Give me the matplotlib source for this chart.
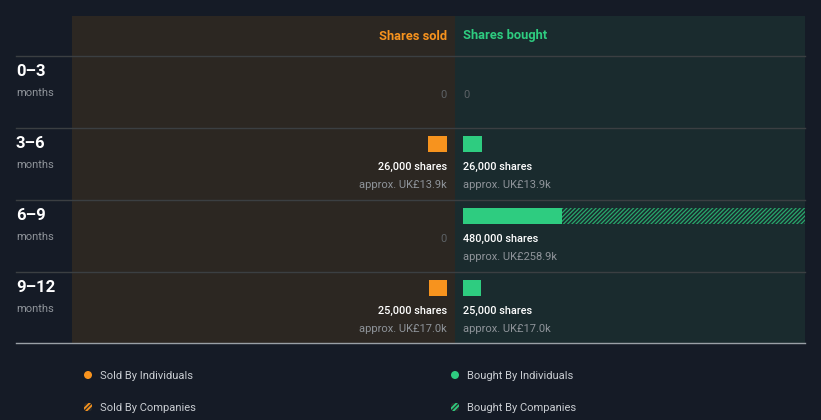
import matplotlib
matplotlib.use("Agg")
import matplotlib.pyplot as plt
from matplotlib.patches import Rectangle, Circle, FancyBboxPatch
import matplotlib as mpl

# ---- data ----
periods = ["0–3", "3–6", "6–9", "9–12"]
sold_individuals = [0, 26000, 0, 25000]
sold_companies = [0, 0, 0, 0]
bought_individuals = [0, 26000, 139000, 25000]
bought_companies = [0, 0, 341000, 0]
sold_values = ["", "approx. UK£13.9k", "", "approx. UK£17.0k"]
bought_values = ["", "approx. UK£13.9k", "approx. UK£258.9k", "approx. UK£17.0k"]
legend_labels = ["Sold By Individuals", "Sold By Companies",
                 "Bought By Individuals", "Bought By Companies"]

# ---- style ----
plt.rcParams['font.family'] = ['Roboto', 'DejaVu Sans']
mpl.rcParams['hatch.linewidth'] = 0.9
BG = "#151b26"
SOLD_BG = "#2c2722"
BOUGHT_BG = "#1a2b2e"
ORANGE = "#f7931e"
GREEN = "#2ecc80"
GREEN_H = "#28a86c"
ORANGE_H = "#c97a1c"
LINE = "#3b3f42"
WHITE = "#ffffff"
GREY = "#8f949a"
DIM = "#5d6266"

W, H = 821, 420
fig = plt.figure(figsize=(W / 100, H / 100), dpi=100, facecolor=BG)
ax0 = fig.add_axes([0, 0, 1, 1])
ax0.set_xlim(0, W)
ax0.set_ylim(H, 0)
ax0.axis("off")
ax0.set_facecolor(BG)

top, header_bottom, row_h = 16, 56, 72
sold_left, mid, right = 72, 455, 805
ax0.add_patch(Rectangle((sold_left, top), mid - sold_left, 343 - top, color=SOLD_BG, lw=0, zorder=0))
ax0.add_patch(Rectangle((mid, top), right - mid, 343 - top, color=BOUGHT_BG, lw=0, zorder=0))

# separators
for i in range(len(periods)):
    y = header_bottom + i * row_h
    ax0.plot([16, right], [y, y], color=LINE, lw=1, zorder=1)
ax0.plot([16, right], [343, 343], color="#9aa0a6", lw=1, zorder=1)

ax0.text(447, 36, "Shares sold", color=ORANGE, fontsize=9.3, fontweight="bold", ha="right", va="center")
ax0.text(463, 36, "Shares bought", color=GREEN, fontsize=9.3, fontweight="bold", ha="left", va="center")

# bar axes (same share scale on both sides)
bought_span = right - 463
max_total = max(b + c for b, c in zip(bought_individuals, bought_companies))
px_per_share = bought_span / max_total
axb = fig.add_axes([463 / W, 0, bought_span / W, 1])
axb.set_xlim(0, max_total)
axb.set_ylim(H, 0)
axb.axis("off")
axb.patch.set_alpha(0)
sold_span = 447 - sold_left
axs = fig.add_axes([sold_left / W, 0, sold_span / W, 1])
axs.set_xlim(sold_span / px_per_share, 0)
axs.set_ylim(H, 0)
axs.axis("off")
axs.patch.set_alpha(0)

ycent = [header_bottom + i * row_h + 16 for i in range(len(periods))]

axs.barh(ycent, sold_individuals, height=16, left=0, color=ORANGE, lw=0)
axs.barh(ycent, sold_companies, height=16, left=sold_individuals, facecolor=SOLD_BG,
         edgecolor=ORANGE_H, hatch="////////", lw=0)
axb.barh(ycent, bought_individuals, height=16, left=0, color=GREEN, lw=0)
axb.barh(ycent, bought_companies, height=16, left=bought_individuals, facecolor=BOUGHT_BG,
         edgecolor=GREEN_H, hatch="////////", lw=0)

for i, p in enumerate(periods):
    rt = header_bottom + i * row_h
    ax0.text(16, rt + 15, p, color=WHITE, fontsize=12, fontweight="bold", ha="left", va="center")
    ax0.text(16, rt + 37, "months", color=GREY, fontsize=8, ha="left", va="center")
    st = sold_individuals[i] + sold_companies[i]
    bt = bought_individuals[i] + bought_companies[i]
    if st == 0:
        ax0.text(447, rt + 39, "0", color=DIM, fontsize=8, ha="right", va="center")
    else:
        ax0.text(447, rt + 39, f"{st:,} shares", color=WHITE, fontsize=7.8, fontweight="medium", ha="right", va="center")
        ax0.text(447, rt + 57, sold_values[i], color=GREY, fontsize=8, ha="right", va="center")
    if bt == 0:
        ax0.text(463, rt + 39, "0", color=DIM, fontsize=8, ha="left", va="center")
    else:
        ax0.text(463, rt + 39, f"{bt:,} shares", color=WHITE, fontsize=7.8, fontweight="medium", ha="left", va="center")
        ax0.text(463, rt + 57, bought_values[i], color=GREY, fontsize=8, ha="left", va="center")

# legend
leg = [(88, 375, ORANGE, False), (88, 407, ORANGE, True),
       (455, 375, GREEN, False), (455, 407, GREEN, True)]
for (x, y, c, hatched), lab in zip(leg, legend_labels):
    if hatched:
        icon = FancyBboxPatch((x - 4, y - 4), 8, 8, boxstyle="round,pad=0,rounding_size=2.5",
                              facecolor="#2b2b2b", lw=0)
        ax0.add_patch(icon)
        for off in (-2.2, 2.2):
            ln, = ax0.plot([x - 6 + off, x + 6 + off], [y + 6, y - 6], color=c, lw=1.3,
                           solid_capstyle="butt")
            ln.set_clip_path(icon)
    else:
        ax0.add_patch(Circle((x, y), 4, color=c, lw=0))
    ax0.text(x + 12, y + 1, lab, color="#c9cdd2", fontsize=8, ha="left", va="center")

fig.savefig("out.png", dpi=100, facecolor=BG)
